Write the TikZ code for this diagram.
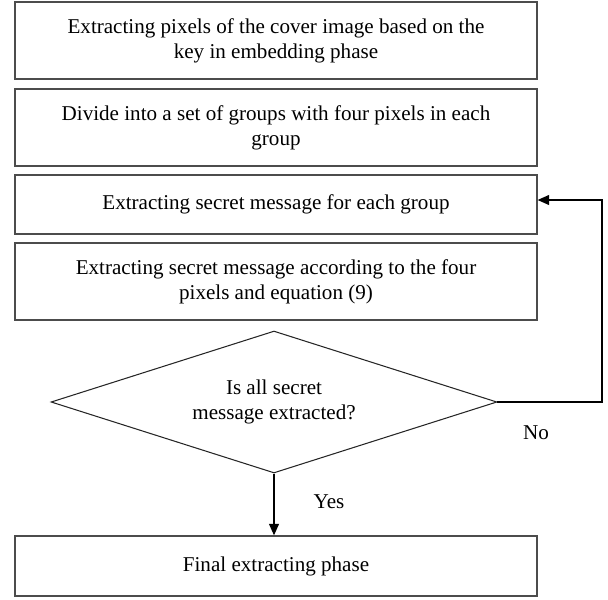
\documentclass[tikz,border=0pt]{standalone}
\usepackage{fontspec}
\setmainfont{Liberation Serif}
\usetikzlibrary{shapes.geometric,arrows.meta}
\begin{document}
\begin{tikzpicture}[x=0.02cm, y=-0.02cm,
   font=\fontsize{12}{14.2}\selectfont,
   procbox/.style={draw=black!70, line width=0.8pt, minimum width=10.44cm, align=center, inner sep=0pt},
   decbox/.style={draw=black!85, line width=0.6pt, diamond, aspect=3.14, minimum width=8.92cm, minimum height=2.84cm, align=center, inner sep=0pt},
   arr/.style={line width=0.6pt, -{Triangle[length=0.23cm, width=0.2cm]}}]
   \useasboundingbox (0,0) rectangle (608,599);
   \node[procbox, minimum height=1.54cm] (b1) at (276, 40.5) {Extracting pixels of the cover image based on the\\key in embedding phase};
   \node[procbox, minimum height=1.54cm] (b2) at (276, 127.5) {Divide into a set of groups with four pixels in each\\group};
   \node[procbox, minimum height=1.18cm] (b3) at (276, 204.5) {Extracting secret message for each group};
   \node[procbox, minimum height=1.54cm] (b4) at (276, 281.5) {Extracting secret message according to the four\\pixels and equation (9)};
   \node[decbox] (dec) at (274, 402) {Is all secret\\message extracted?};
   \node[procbox, minimum height=1.2cm] (fin) at (276, 566) {Final extracting phase};
   \coordinate (loop) at (602, 402);
   \draw[arr] (dec.east) -- (loop) |- ([yshift=0.09cm]b3.east);
   \draw[arr] (dec.south) -- (dec.south |- fin.north);
   \node (no) at (536, 433) {No};
   \node (yes) at (329, 502) {Yes};
\end{tikzpicture}
\end{document}
